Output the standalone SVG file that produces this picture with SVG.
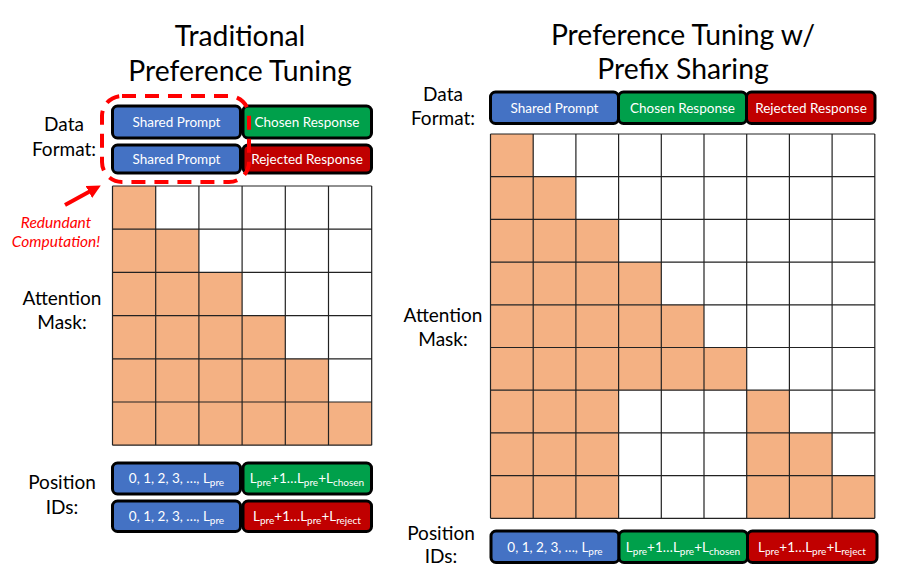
<svg xmlns="http://www.w3.org/2000/svg" width="904" height="572" viewBox="0 0 904 572">
<defs>
<style>
.lbl{font-family:Lato,"Open Sans","Liberation Sans",sans-serif;fill:#000;text-anchor:middle}
.ttl{font-size:28.3px}
.side{font-size:19px}
.bt{font-family:Lato,"Open Sans","Liberation Sans",sans-serif;fill:#fff;text-anchor:middle;font-size:13.5px}
.blue{fill:#4472C4;stroke:#000;stroke-width:3}
.green{fill:#00A04B;stroke:#000;stroke-width:3}
.red{fill:#C00000;stroke:#000;stroke-width:3}
.on{fill:#F4B183}
.off{fill:#fff}
.gl{stroke:#222;stroke-width:1.2;fill:none}
.sub{font-size:10px}
.warn{font-family:Lato,"Open Sans","Liberation Sans",sans-serif;font-style:italic;font-size:15.5px;fill:#FF0000;text-anchor:middle}
</style>
<marker id="ah" viewBox="0 0 10 10" refX="6" refY="5" markerWidth="3.4" markerHeight="3.4" orient="auto"><path d="M0,0 L10,5 L0,10 z" fill="#FF0000"/></marker>
</defs>
<rect width="904" height="572" fill="#fff"/>

<g id="titles">
<text class="lbl ttl" x="240" y="46">Traditional</text>
<text class="lbl ttl" x="240" y="81">Preference Tuning</text>
<text class="lbl ttl" x="683" y="45">Preference Tuning w/</text>
<text class="lbl ttl" x="683" y="79">Prefix Sharing</text>
</g>

<g id="side-labels">
<text class="lbl side" x="64" y="131">Data</text>
<text class="lbl side" x="64" y="156">Format:</text>
<text class="lbl side" x="62" y="305">Attention</text>
<text class="lbl side" x="62" y="329">Mask:</text>
<text class="lbl side" x="62" y="489">Position</text>
<text class="lbl side" x="62" y="514">IDs:</text>
<text class="lbl side" x="443" y="101">Data</text>
<text class="lbl side" x="443" y="125">Format:</text>
<text class="lbl side" x="443" y="322">Attention</text>
<text class="lbl side" x="443" y="346">Mask:</text>
<text class="lbl side" x="441" y="540">Position</text>
<text class="lbl side" x="441" y="563">IDs:</text>
</g>

<g id="left-data-format">
<rect class="blue" x="112.5" y="106" width="128" height="32" rx="5"/>
<text class="bt" x="176.5" y="127">Shared Prompt</text>
<rect class="green" x="243" y="106" width="128.5" height="32" rx="5"/>
<text class="bt" x="307" y="127">Chosen Response</text>
<rect class="blue" x="112.5" y="145" width="128" height="28" rx="5"/>
<text class="bt" x="176.5" y="164">Shared Prompt</text>
<rect class="red" x="243" y="145" width="128.5" height="28" rx="5"/>
<text class="bt" x="307" y="164">Rejected Response</text>
</g>

<g id="redundant-highlight">
<rect x="102" y="96" width="147" height="86" rx="20" fill="none" stroke="#FF0000" stroke-width="4" stroke-dasharray="14,9"/>
<text class="warn" x="56" y="228">Redundant</text>
<text class="warn" x="56" y="247">Computation!</text>
</g>

<g id="connectors">
<line x1="65" y1="205" x2="96" y2="188" stroke="#FF0000" stroke-width="4" marker-end="url(#ah)"/>
</g>

<g id="left-mask">
<rect class="on" x="112.5" y="186" width="43.2" height="43.2"/>
<rect class="on" x="112.5" y="229.2" width="86.4" height="43.2"/>
<rect class="on" x="112.5" y="272.4" width="129.6" height="43.2"/>
<rect class="on" x="112.5" y="315.6" width="172.8" height="43.2"/>
<rect class="on" x="112.5" y="358.8" width="216" height="43.2"/>
<rect class="on" x="112.5" y="402" width="259.2" height="43.2"/>
<path class="gl" d="M112.5,186H371.7M112.5,229.2H371.7M112.5,272.4H371.7M112.5,315.6H371.7M112.5,358.8H371.7M112.5,402H371.7M112.5,445.2H371.7M112.5,186V445.2M155.7,186V445.2M198.9,186V445.2M242.1,186V445.2M285.3,186V445.2M328.5,186V445.2M371.7,186V445.2"/>
</g>

<g id="left-position-ids">
<rect class="blue" x="112.5" y="463" width="128" height="31" rx="5"/>
<text class="bt" x="176.5" y="483">0, 1, 2, 3, …, L<tspan class="sub" dy="3">pre</tspan></text>
<rect class="green" x="243" y="463" width="128.5" height="31" rx="5"/>
<text class="bt" x="307" y="483">L<tspan class="sub" dy="3">pre</tspan><tspan dy="-3">+1…L</tspan><tspan class="sub" dy="3">pre</tspan><tspan dy="-3">+L</tspan><tspan class="sub" dy="3">chosen</tspan></text>
<rect class="blue" x="112.5" y="501" width="128" height="30.5" rx="5"/>
<text class="bt" x="176.5" y="521">0, 1, 2, 3, …, L<tspan class="sub" dy="3">pre</tspan></text>
<rect class="red" x="243" y="501" width="128.5" height="30.5" rx="5"/>
<text class="bt" x="307" y="521">L<tspan class="sub" dy="3">pre</tspan><tspan dy="-3">+1…L</tspan><tspan class="sub" dy="3">pre</tspan><tspan dy="-3">+L</tspan><tspan class="sub" dy="3">reject</tspan></text>
</g>

<g id="right-data-format">
<rect class="blue" x="490.5" y="92" width="128" height="31.5" rx="5"/>
<text class="bt" x="554.5" y="112.5">Shared Prompt</text>
<rect class="green" x="618.5" y="92" width="128" height="31.5" rx="5"/>
<text class="bt" x="682.5" y="112.5">Chosen Response</text>
<rect class="red" x="746.5" y="92" width="128.5" height="31.5" rx="5"/>
<text class="bt" x="811" y="112.5">Rejected Response</text>
</g>

<g id="right-mask">
<rect class="on" x="490.5" y="134" width="42.7" height="42.7"/>
<rect class="on" x="490.5" y="176.7" width="85.4" height="42.7"/>
<rect class="on" x="490.5" y="219.4" width="128.1" height="42.7"/>
<rect class="on" x="490.5" y="262.1" width="170.8" height="42.7"/>
<rect class="on" x="490.5" y="304.8" width="213.5" height="42.7"/>
<rect class="on" x="490.5" y="347.5" width="256.2" height="42.7"/>
<rect class="on" x="490.5" y="390.2" width="128.1" height="128.1"/>
<rect class="on" x="746.7" y="390.2" width="42.7" height="128.1"/>
<rect class="on" x="789.4" y="432.9" width="42.7" height="85.4"/>
<rect class="on" x="832.1" y="475.6" width="42.7" height="42.7"/>
<path class="gl" d="M490.5,134H874.8M490.5,176.7H874.8M490.5,219.4H874.8M490.5,262.1H874.8M490.5,304.8H874.8M490.5,347.5H874.8M490.5,390.2H874.8M490.5,432.9H874.8M490.5,475.6H874.8M490.5,518.3H874.8M490.5,134V518.3M533.2,134V518.3M575.9,134V518.3M618.6,134V518.3M661.3,134V518.3M704,134V518.3M746.7,134V518.3M789.4,134V518.3M832.1,134V518.3M874.8,134V518.3"/>
</g>

<g id="right-position-ids">
<rect class="blue" x="491" y="531" width="128" height="31.5" rx="5"/>
<text class="bt" x="555" y="551.5">0, 1, 2, 3, …, L<tspan class="sub" dy="3">pre</tspan></text>
<rect class="green" x="619" y="531" width="128.5" height="31.5" rx="5"/>
<text class="bt" x="683" y="551.5">L<tspan class="sub" dy="3">pre</tspan><tspan dy="-3">+1…L</tspan><tspan class="sub" dy="3">pre</tspan><tspan dy="-3">+L</tspan><tspan class="sub" dy="3">chosen</tspan></text>
<rect class="red" x="747.5" y="531" width="129.5" height="31.5" rx="5"/>
<text class="bt" x="812" y="551.5">L<tspan class="sub" dy="3">pre</tspan><tspan dy="-3">+1…L</tspan><tspan class="sub" dy="3">pre</tspan><tspan dy="-3">+L</tspan><tspan class="sub" dy="3">reject</tspan></text>
</g>
</svg>
